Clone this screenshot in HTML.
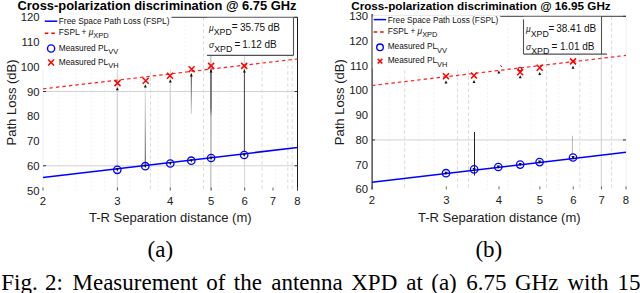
<!DOCTYPE html>
<html><head><meta charset="utf-8"><style>
html,body{margin:0;padding:0;background:#fff;width:640px;height:293px;overflow:hidden}
svg{display:block;font-family:"Liberation Sans", sans-serif}
</style></head><body>
<svg width="640" height="293" viewBox="0 0 640 293">
<rect width="640" height="293" fill="#fff"/>
<line x1="59" y1="17.3" x2="59" y2="190.5" stroke="#ececec" stroke-width="0.8" stroke-dasharray="1.5 2.5"/>
<line x1="75.8" y1="17.3" x2="75.8" y2="190.5" stroke="#ececec" stroke-width="0.8" stroke-dasharray="1.5 2.5"/>
<line x1="91.4" y1="17.3" x2="91.4" y2="190.5" stroke="#ececec" stroke-width="0.8" stroke-dasharray="1.5 2.5"/>
<line x1="104.5" y1="17.3" x2="104.5" y2="190.5" stroke="#ececec" stroke-width="0.8" stroke-dasharray="1.5 2.5"/>
<line x1="130" y1="17.3" x2="130" y2="190.5" stroke="#ececec" stroke-width="0.8" stroke-dasharray="1.5 2.5"/>
<line x1="158" y1="17.3" x2="158" y2="190.5" stroke="#ececec" stroke-width="0.8" stroke-dasharray="1.5 2.5"/>
<line x1="185" y1="17.3" x2="185" y2="190.5" stroke="#ececec" stroke-width="0.8" stroke-dasharray="1.5 2.5"/>
<line x1="218.7" y1="17.3" x2="218.7" y2="190.5" stroke="#ececec" stroke-width="0.8" stroke-dasharray="1.5 2.5"/>
<line x1="231" y1="17.3" x2="231" y2="190.5" stroke="#ececec" stroke-width="0.8" stroke-dasharray="1.5 2.5"/>
<line x1="275.6" y1="17.3" x2="275.6" y2="190.5" stroke="#ececec" stroke-width="0.8" stroke-dasharray="1.5 2.5"/>
<line x1="150.5" y1="17.3" x2="150.5" y2="190.5" stroke="#d8d8d8" stroke-width="0.9" stroke-dasharray="3.5 2.5"/>
<line x1="203.5" y1="17.3" x2="203.5" y2="190.5" stroke="#d8d8d8" stroke-width="0.9" stroke-dasharray="3.5 2.5"/>
<line x1="262" y1="17.3" x2="262" y2="190.5" stroke="#d8d8d8" stroke-width="0.9" stroke-dasharray="3.5 2.5"/>
<line x1="287.8" y1="17.3" x2="287.8" y2="190.5" stroke="#d8d8d8" stroke-width="0.9" stroke-dasharray="3.5 2.5"/>
<line x1="292.2" y1="17.3" x2="292.2" y2="190.5" stroke="#d8d8d8" stroke-width="0.9" stroke-dasharray="3.5 2.5"/>
<line x1="117.30" y1="17.3" x2="117.30" y2="190.5" stroke="#cdcdcd" stroke-width="0.9"/>
<line x1="170.30" y1="17.3" x2="170.30" y2="190.5" stroke="#d4d4d4" stroke-width="0.9"/>
<line x1="210.80" y1="17.3" x2="210.80" y2="190.5" stroke="#c4c4c4" stroke-width="1.4"/>
<line x1="244.60" y1="17.3" x2="244.60" y2="190.5" stroke="#d0d0d0" stroke-width="0.9"/>
<line x1="43" y1="91.53" x2="297.5" y2="91.53" stroke="#cdcdcd" stroke-width="0.9"/>
<line x1="43" y1="165.76" x2="297.5" y2="165.76" stroke="#cdcdcd" stroke-width="0.9"/>
<line x1="43" y1="17.3" x2="297.5" y2="17.3" stroke="#3a3a3a" stroke-width="1"/>
<line x1="43" y1="17.3" x2="43" y2="190.5" stroke="#eeeeee" stroke-width="1"/>
<line x1="297.5" y1="17.3" x2="297.5" y2="190.5" stroke="#1a1a1a" stroke-width="1"/>
<text x="39.5" y="194.50" text-anchor="end" font-size="11.3" fill="#1a1a1a">50</text>
<line x1="43" y1="165.76" x2="46" y2="165.76" stroke="#333" stroke-width="1"/>
<line x1="294.5" y1="165.76" x2="297.5" y2="165.76" stroke="#333" stroke-width="1"/>
<text x="39.5" y="169.76" text-anchor="end" font-size="11.3" fill="#1a1a1a">60</text>
<text x="39.5" y="145.01" text-anchor="end" font-size="11.3" fill="#1a1a1a">70</text>
<text x="39.5" y="120.27" text-anchor="end" font-size="11.3" fill="#1a1a1a">80</text>
<line x1="43" y1="91.53" x2="46" y2="91.53" stroke="#333" stroke-width="1"/>
<line x1="294.5" y1="91.53" x2="297.5" y2="91.53" stroke="#333" stroke-width="1"/>
<text x="39.5" y="95.53" text-anchor="end" font-size="11.3" fill="#1a1a1a">90</text>
<text x="39.5" y="70.79" text-anchor="end" font-size="11.3" fill="#1a1a1a">100</text>
<text x="39.5" y="46.04" text-anchor="end" font-size="11.3" fill="#1a1a1a">110</text>
<line x1="43" y1="17.30" x2="46" y2="17.30" stroke="#333" stroke-width="1"/>
<line x1="294.5" y1="17.30" x2="297.5" y2="17.30" stroke="#333" stroke-width="1"/>
<text x="39.5" y="21.30" text-anchor="end" font-size="11.3" fill="#1a1a1a">120</text>
<line x1="43.00" y1="190.5" x2="43.00" y2="187.5" stroke="#444" stroke-width="0.8"/>
<text x="43.00" y="205.00" text-anchor="middle" font-size="11.3" fill="#1a1a1a">2</text>
<line x1="117.44" y1="190.5" x2="117.44" y2="187.5" stroke="#444" stroke-width="0.8"/>
<text x="117.44" y="205.00" text-anchor="middle" font-size="11.3" fill="#1a1a1a">3</text>
<line x1="170.25" y1="190.5" x2="170.25" y2="187.5" stroke="#444" stroke-width="0.8"/>
<text x="170.25" y="205.00" text-anchor="middle" font-size="11.3" fill="#1a1a1a">4</text>
<line x1="211.22" y1="190.5" x2="211.22" y2="187.5" stroke="#444" stroke-width="0.8"/>
<text x="211.22" y="205.00" text-anchor="middle" font-size="11.3" fill="#1a1a1a">5</text>
<line x1="244.69" y1="190.5" x2="244.69" y2="187.5" stroke="#444" stroke-width="0.8"/>
<text x="244.69" y="205.00" text-anchor="middle" font-size="11.3" fill="#1a1a1a">6</text>
<line x1="272.99" y1="190.5" x2="272.99" y2="187.5" stroke="#444" stroke-width="0.8"/>
<text x="272.99" y="205.00" text-anchor="middle" font-size="11.3" fill="#1a1a1a">7</text>
<line x1="297.50" y1="190.5" x2="297.50" y2="187.5" stroke="#444" stroke-width="0.8"/>
<text x="297.50" y="205.00" text-anchor="middle" font-size="11.3" fill="#1a1a1a">8</text>
<line x1="43" y1="177.5" x2="297.5" y2="147.5" stroke="#0000ff" stroke-width="1.5"/>
<line x1="43" y1="88.9" x2="297.5" y2="58.9" stroke="#ff2020" stroke-width="1.2" stroke-dasharray="3.5 3"/>
<line x1="117.3" y1="166" x2="117.3" y2="87.2" stroke="#d0d0d0" stroke-width="0.8"/>
<path d="M115.80 90.20 L117.30 87.20 L118.80 90.20 Z" fill="#111"/>
<linearGradient id="gL1" gradientUnits="userSpaceOnUse" x1="145.3" y1="84.5" x2="145.3" y2="166"><stop offset="0" stop-color="#e6e6e6"/><stop offset="0.3" stop-color="#c8c8c8"/><stop offset="1" stop-color="#555"/></linearGradient>
<rect x="144.75" y="84.5" width="1.1" height="81.50" fill="url(#gL1)"/>
<path d="M143.80 87.50 L145.30 84.50 L146.80 87.50 Z" fill="#111"/>
<line x1="170.3" y1="160" x2="170.3" y2="79.5" stroke="#d0d0d0" stroke-width="0.8"/>
<path d="M168.80 82.50 L170.30 79.50 L171.80 82.50 Z" fill="#111"/>
<linearGradient id="gL3" gradientUnits="userSpaceOnUse" x1="191.3" y1="73.5" x2="191.3" y2="114"><stop offset="0" stop-color="#333"/><stop offset="1" stop-color="#d0d0d0"/></linearGradient>
<rect x="190.80" y="73.5" width="1.0" height="40.50" fill="url(#gL3)"/>
<path d="M189.80 76.50 L191.30 73.50 L192.80 76.50 Z" fill="#111"/>
<linearGradient id="gL4" gradientUnits="userSpaceOnUse" x1="211.0" y1="69.5" x2="211.0" y2="156"><stop offset="0" stop-color="#555"/><stop offset="0.45" stop-color="#666"/><stop offset="0.55" stop-color="#bbb"/><stop offset="1" stop-color="#c4c4c4"/></linearGradient>
<rect x="210.25" y="69.5" width="1.5" height="86.50" fill="url(#gL4)"/>
<path d="M209.50 72.50 L211.00 69.50 L212.50 72.50 Z" fill="#111"/>
<line x1="244.4" y1="152" x2="244.4" y2="69.5" stroke="#333" stroke-width="0.9"/>
<path d="M242.90 72.50 L244.40 69.50 L245.90 72.50 Z" fill="#111"/>
<circle cx="117.3" cy="169.8" r="3.7" fill="none" stroke="#0000ff" stroke-width="1.3"/>
<path d="M115.70 168.30 L117.30 171.50 L118.90 168.30 Z" fill="#111"/>
<circle cx="145.3" cy="166.2" r="3.7" fill="none" stroke="#0000ff" stroke-width="1.3"/>
<path d="M143.70 164.70 L145.30 167.90 L146.90 164.70 Z" fill="#111"/>
<circle cx="170.3" cy="163.5" r="3.7" fill="none" stroke="#0000ff" stroke-width="1.3"/>
<path d="M168.70 162.00 L170.30 165.20 L171.90 162.00 Z" fill="#111"/>
<circle cx="191.3" cy="160.7" r="3.7" fill="none" stroke="#0000ff" stroke-width="1.3"/>
<path d="M189.70 159.20 L191.30 162.40 L192.90 159.20 Z" fill="#111"/>
<circle cx="211.1" cy="158" r="3.7" fill="none" stroke="#0000ff" stroke-width="1.3"/>
<path d="M209.50 156.50 L211.10 159.70 L212.70 156.50 Z" fill="#111"/>
<circle cx="244.2" cy="155" r="3.7" fill="none" stroke="#0000ff" stroke-width="1.3"/>
<path d="M242.60 153.50 L244.20 156.70 L245.80 153.50 Z" fill="#111"/>
<path d="M114.50 80.10 L120.50 86.10 M114.50 86.10 L120.50 80.10" stroke="#ff0000" stroke-width="1.5"/>
<path d="M142.70 77.80 L148.70 83.80 M142.70 83.80 L148.70 77.80" stroke="#ff0000" stroke-width="1.5"/>
<path d="M167.00 72.70 L173.00 78.70 M167.00 78.70 L173.00 72.70" stroke="#ff0000" stroke-width="1.5"/>
<path d="M188.60 66.30 L194.60 72.30 M188.60 72.30 L194.60 66.30" stroke="#ff0000" stroke-width="1.5"/>
<path d="M208.10 62.90 L214.10 68.90 M208.10 68.90 L214.10 62.90" stroke="#ff0000" stroke-width="1.5"/>
<path d="M241.20 62.90 L247.20 68.90 M241.20 68.90 L247.20 62.90" stroke="#ff0000" stroke-width="1.5"/>

<text x="17.5" y="9.6" font-size="12.9" font-weight="bold" fill="#000">Cross-polarization discrimination @ 6.75 GHz</text>
<text transform="translate(15.6,145.4) rotate(-90)" font-size="13" fill="#1a1a1a">Path Loss (dB)</text>
<text x="89" y="221.6" font-size="13" fill="#1a1a1a">T-R Separation distance (m)</text>
<rect x="40" y="14" width="131.5" height="55" fill="#fff"/>
<line x1="44.8" y1="21.2" x2="57.3" y2="21.2" stroke="#0000ff" stroke-width="1.5"/>
<text x="58.8" y="24.2" font-size="8.3" fill="#111">Free Space Path Loss (FSPL)</text>
<line x1="44.8" y1="33.2" x2="57.3" y2="33.2" stroke="#ff0000" stroke-width="1.5" stroke-dasharray="3.5 3"/>
<text x="58.8" y="35.2" font-size="8.3" fill="#111">FSPL + <tspan font-style="italic">μ</tspan><tspan dy="3" font-size="7.470000000000001">XPD</tspan></text>
<circle cx="51.099999999999994" cy="48.5" r="3.6" fill="none" stroke="#0000ff" stroke-width="1.4"/>
<text x="58.8" y="50.5" font-size="8.3" fill="#111">Measured PL<tspan dy="3.6" font-size="7.470000000000001">VV</tspan></text>
<path d="M48.10 59.50 L54.10 65.50 M48.10 65.50 L54.10 59.50" stroke="#ff0000" stroke-width="1.5"/>
<text x="58.8" y="64.5" font-size="8.3" fill="#111">Measured PL<tspan dy="3.6" font-size="7.470000000000001">VH</tspan></text>
<rect x="207" y="17.8" width="86.5" height="38" fill="#fff"/>
<line x1="207" y1="55.3" x2="293.5" y2="55.3" stroke="#505050" stroke-width="1.2"/>
<line x1="293.5" y1="17.3" x2="293.5" y2="55.3" stroke="#505050" stroke-width="1.1"/>
<text x="209" y="31" font-size="10" fill="#111"><tspan font-style="italic" font-size="8.5">μ</tspan><tspan dy="4.3" font-size="8.8">XPD</tspan></text>
<text x="231.8" y="29.5" font-size="10" fill="#111">=</text>
<text x="240" y="31" font-size="10" fill="#111">35.75 dB</text>
<text x="209" y="47.8" font-size="10" fill="#111"><tspan font-style="italic" font-size="8.5">σ</tspan><tspan dy="4.3" font-size="8.8">XPD</tspan></text>
<text x="234.5" y="47.8" font-size="10" fill="#111">=</text>
<text x="242.3" y="47.8" font-size="10" fill="#111">1.12 dB</text>
<line x1="388.9" y1="16.3" x2="388.9" y2="189.4" stroke="#ececec" stroke-width="0.8" stroke-dasharray="1.5 2.5"/>
<line x1="418.8" y1="16.3" x2="418.8" y2="189.4" stroke="#ececec" stroke-width="0.8" stroke-dasharray="1.5 2.5"/>
<line x1="434" y1="16.3" x2="434" y2="189.4" stroke="#ececec" stroke-width="0.8" stroke-dasharray="1.5 2.5"/>
<line x1="487.6" y1="16.3" x2="487.6" y2="189.4" stroke="#ececec" stroke-width="0.8" stroke-dasharray="1.5 2.5"/>
<line x1="508" y1="16.3" x2="508" y2="189.4" stroke="#ececec" stroke-width="0.8" stroke-dasharray="1.5 2.5"/>
<line x1="531.2" y1="16.3" x2="531.2" y2="189.4" stroke="#ececec" stroke-width="0.8" stroke-dasharray="1.5 2.5"/>
<line x1="559" y1="16.3" x2="559" y2="189.4" stroke="#ececec" stroke-width="0.8" stroke-dasharray="1.5 2.5"/>
<line x1="591" y1="16.3" x2="591" y2="189.4" stroke="#ececec" stroke-width="0.8" stroke-dasharray="1.5 2.5"/>
<line x1="404.6" y1="16.3" x2="404.6" y2="189.4" stroke="#d8d8d8" stroke-width="0.9" stroke-dasharray="3.5 2.5"/>
<line x1="457.5" y1="16.3" x2="457.5" y2="189.4" stroke="#d8d8d8" stroke-width="0.9" stroke-dasharray="3.5 2.5"/>
<line x1="468.5" y1="16.3" x2="468.5" y2="189.4" stroke="#d8d8d8" stroke-width="0.9" stroke-dasharray="3.5 2.5"/>
<line x1="546.5" y1="16.3" x2="546.5" y2="189.4" stroke="#d8d8d8" stroke-width="0.9" stroke-dasharray="3.5 2.5"/>
<line x1="579.8" y1="16.3" x2="579.8" y2="189.4" stroke="#d8d8d8" stroke-width="0.9" stroke-dasharray="3.5 2.5"/>
<line x1="611.6" y1="16.3" x2="611.6" y2="189.4" stroke="#d8d8d8" stroke-width="0.9" stroke-dasharray="3.5 2.5"/>
<line x1="601.30" y1="16.3" x2="601.30" y2="189.4" stroke="#c8c8c8" stroke-width="0.9"/>
<line x1="372" y1="139.94" x2="626" y2="139.94" stroke="#cdcdcd" stroke-width="0.9"/>
<line x1="372" y1="16.3" x2="626" y2="16.3" stroke="#3a3a3a" stroke-width="1"/>
<line x1="372.1" y1="14" x2="372.1" y2="189.4" stroke="#111" stroke-width="1.1"/>
<line x1="626" y1="16.3" x2="626" y2="189.4" stroke="#f0f0f0" stroke-width="1"/>
<text x="368" y="193.40" text-anchor="end" font-size="11.3" fill="#1a1a1a">60</text>
<text x="368" y="168.67" text-anchor="end" font-size="11.3" fill="#1a1a1a">70</text>
<line x1="372" y1="139.94" x2="375" y2="139.94" stroke="#333" stroke-width="1"/>
<line x1="623" y1="139.94" x2="626" y2="139.94" stroke="#333" stroke-width="1"/>
<text x="368" y="143.94" text-anchor="end" font-size="11.3" fill="#1a1a1a">80</text>
<text x="368" y="119.21" text-anchor="end" font-size="11.3" fill="#1a1a1a">90</text>
<text x="368" y="94.49" text-anchor="end" font-size="11.3" fill="#1a1a1a">100</text>
<text x="368" y="69.76" text-anchor="end" font-size="11.3" fill="#1a1a1a">110</text>
<text x="368" y="45.03" text-anchor="end" font-size="11.3" fill="#1a1a1a">120</text>
<line x1="372" y1="16.30" x2="375" y2="16.30" stroke="#333" stroke-width="1"/>
<line x1="623" y1="16.30" x2="626" y2="16.30" stroke="#333" stroke-width="1"/>
<text x="368" y="20.30" text-anchor="end" font-size="11.3" fill="#1a1a1a">130</text>
<line x1="372.00" y1="189.4" x2="372.00" y2="186.4" stroke="#444" stroke-width="0.8"/>
<text x="372.00" y="203.90" text-anchor="middle" font-size="11.3" fill="#1a1a1a">2</text>
<line x1="446.29" y1="189.4" x2="446.29" y2="186.4" stroke="#444" stroke-width="0.8"/>
<text x="446.29" y="203.90" text-anchor="middle" font-size="11.3" fill="#1a1a1a">3</text>
<line x1="499.00" y1="189.4" x2="499.00" y2="186.4" stroke="#444" stroke-width="0.8"/>
<text x="499.00" y="203.90" text-anchor="middle" font-size="11.3" fill="#1a1a1a">4</text>
<line x1="539.88" y1="189.4" x2="539.88" y2="186.4" stroke="#444" stroke-width="0.8"/>
<text x="539.88" y="203.90" text-anchor="middle" font-size="11.3" fill="#1a1a1a">5</text>
<line x1="573.29" y1="189.4" x2="573.29" y2="186.4" stroke="#444" stroke-width="0.8"/>
<text x="573.29" y="203.90" text-anchor="middle" font-size="11.3" fill="#1a1a1a">6</text>
<line x1="601.53" y1="189.4" x2="601.53" y2="186.4" stroke="#444" stroke-width="0.8"/>
<text x="601.53" y="203.90" text-anchor="middle" font-size="11.3" fill="#1a1a1a">7</text>
<line x1="626.00" y1="189.4" x2="626.00" y2="186.4" stroke="#444" stroke-width="0.8"/>
<text x="626.00" y="203.90" text-anchor="middle" font-size="11.3" fill="#1a1a1a">8</text>
<line x1="372" y1="182.2" x2="626" y2="152.3" stroke="#0000ff" stroke-width="1.5"/>
<line x1="372" y1="85.5" x2="626" y2="55.4" stroke="#ff2020" stroke-width="1.2" stroke-dasharray="3.5 3"/>
<line x1="474.5" y1="175.5" x2="474.5" y2="132" stroke="#222" stroke-width="1.0"/>
<line x1="572.4" y1="155" x2="572.4" y2="135.8" stroke="#999" stroke-width="0.7"/>
<path d="M444.50 83.50 L446.00 80.50 L447.50 83.50 Z" fill="#111"/>
<path d="M472.50 83.00 L474.00 80.00 L475.50 83.00 Z" fill="#111"/>
<path d="M497.40 73.50 L498.90 70.50 L500.40 73.50 Z" fill="#111"/>
<path d="M518.70 78.30 L520.20 75.30 L521.70 78.30 Z" fill="#111"/>
<path d="M538.20 75.00 L539.70 72.00 L541.20 75.00 Z" fill="#111"/>
<path d="M571.50 68.80 L573.00 65.80 L574.50 68.80 Z" fill="#111"/>
<circle cx="446" cy="173.2" r="3.7" fill="none" stroke="#0000ff" stroke-width="1.3"/>
<path d="M444.40 171.70 L446.00 174.90 L447.60 171.70 Z" fill="#111"/>
<circle cx="474.1" cy="169.4" r="3.7" fill="none" stroke="#0000ff" stroke-width="1.3"/>
<path d="M472.50 167.90 L474.10 171.10 L475.70 167.90 Z" fill="#111"/>
<circle cx="498.3" cy="167" r="3.7" fill="none" stroke="#0000ff" stroke-width="1.3"/>
<path d="M496.70 165.50 L498.30 168.70 L499.90 165.50 Z" fill="#111"/>
<circle cx="520.2" cy="164.6" r="3.7" fill="none" stroke="#0000ff" stroke-width="1.3"/>
<path d="M518.60 163.10 L520.20 166.30 L521.80 163.10 Z" fill="#111"/>
<circle cx="539.6" cy="162.1" r="3.7" fill="none" stroke="#0000ff" stroke-width="1.3"/>
<path d="M538.00 160.60 L539.60 163.80 L541.20 160.60 Z" fill="#111"/>
<circle cx="573" cy="157.5" r="3.7" fill="none" stroke="#0000ff" stroke-width="1.3"/>
<path d="M571.40 156.00 L573.00 159.20 L574.60 156.00 Z" fill="#111"/>
<path d="M443.00 73.20 L449.00 79.20 M443.00 79.20 L449.00 73.20" stroke="#ff0000" stroke-width="1.5"/>
<path d="M471.00 72.50 L477.00 78.50 M471.00 78.50 L477.00 72.50" stroke="#ff0000" stroke-width="1.5"/>
<path d="M517.20 69.30 L523.20 75.30 M517.20 75.30 L523.20 69.30" stroke="#ff0000" stroke-width="1.5"/>
<path d="M536.70 64.80 L542.70 70.80 M536.70 70.80 L542.70 64.80" stroke="#ff0000" stroke-width="1.5"/>
<path d="M570.00 58.40 L576.00 64.40 M570.00 64.40 L576.00 58.40" stroke="#ff0000" stroke-width="1.5"/>
<circle cx="520" cy="69" r="1.8" fill="none" stroke="#ff0000" stroke-width="1.1"/><path d="M500.2 65 L501.8 67" stroke="#ff0000" stroke-width="1"/>
<text x="351.2" y="9.6" font-size="11.7" font-weight="bold" fill="#000">Cross-polarization discrimination @ 16.95 GHz</text>
<text transform="translate(344.2,145.2) rotate(-90)" font-size="13" fill="#1a1a1a">Path Loss (dB)</text>
<text x="418" y="221.6" font-size="13" fill="#1a1a1a">T-R Separation distance (m)</text>
<rect x="372.7" y="15.5" width="127.5" height="53" fill="#fff"/>
<line x1="373.7" y1="19.6" x2="386.2" y2="19.6" stroke="#0000ff" stroke-width="1.5"/>
<text x="387.7" y="22.6" font-size="8.3" fill="#111">Free Space Path Loss (FSPL)</text>
<line x1="373.7" y1="32.1" x2="386.2" y2="32.1" stroke="#ff0000" stroke-width="1.5" stroke-dasharray="3.5 3"/>
<text x="387.7" y="34.1" font-size="8.3" fill="#111">FSPL + <tspan font-style="italic">μ</tspan><tspan dy="3" font-size="7.470000000000001">XPD</tspan></text>
<circle cx="380.0" cy="47.3" r="3.3" fill="none" stroke="#0000ff" stroke-width="1.4"/>
<text x="387.7" y="49.3" font-size="8.3" fill="#111">Measured PL<tspan dy="4" font-size="7.470000000000001">VV</tspan></text>
<path d="M377.70 58.90 L382.30 63.50 M377.70 63.50 L382.30 58.90" stroke="#ff0000" stroke-width="1.5"/>
<text x="387.7" y="63.2" font-size="8.3" fill="#111">Measured PL<tspan dy="4" font-size="7.470000000000001">VH</tspan></text>
<rect x="523.5" y="16.8" width="78" height="37.8" fill="#fff"/>
<line x1="523.5" y1="54.099999999999994" x2="607.0" y2="54.099999999999994" stroke="#505050" stroke-width="1.2"/>
<line x1="601.5" y1="16.3" x2="601.5" y2="54.099999999999994" stroke="#505050" stroke-width="1.1"/>
<line x1="523.5" y1="19.3" x2="523.5" y2="54.099999999999994" stroke="#505050" stroke-width="1.1"/>
<text x="526" y="32.2" font-size="10" fill="#111"><tspan font-style="italic" font-size="8.5">μ</tspan><tspan dy="4.3" font-size="8.8">XPD</tspan></text>
<text x="548.6" y="31.700000000000003" font-size="10" fill="#111">=</text>
<text x="556.2" y="32.2" font-size="10" fill="#111">38.41 dB</text>
<text x="526" y="49.6" font-size="10" fill="#111"><tspan font-style="italic" font-size="8.5">σ</tspan><tspan dy="4.3" font-size="8.8">XPD</tspan></text>
<text x="551.5" y="49.6" font-size="10" fill="#111">=</text>
<text x="560" y="49.6" font-size="10" fill="#111">1.01 dB</text>
<text x="160.3" y="256.6" text-anchor="middle" font-family='"Liberation Serif", serif' font-size="23" fill="#000">(a)</text><text x="488.8" y="256.6" text-anchor="middle" font-family='"Liberation Serif", serif' font-size="23" fill="#000">(b)</text>
<text x="1.25" y="290.3" font-family='"Liberation Serif", serif' font-size="23" fill="#000">Fig.</text>
<text x="45" y="290.3" font-family='"Liberation Serif", serif' font-size="23" fill="#000">2:</text>
<text x="72.5" y="290.3" font-family='"Liberation Serif", serif' font-size="23" fill="#000">Measurement</text>
<text x="206.25" y="290.3" font-family='"Liberation Serif", serif' font-size="23" fill="#000">of</text>
<text x="233.75" y="290.3" font-family='"Liberation Serif", serif' font-size="23" fill="#000">the</text>
<text x="271.25" y="290.3" font-family='"Liberation Serif", serif' font-size="23" fill="#000">antenna</text>
<text x="351.25" y="290.3" font-family='"Liberation Serif", serif' font-size="23" fill="#000">XPD</text>
<text x="406.25" y="290.3" font-family='"Liberation Serif", serif' font-size="23" fill="#000">at</text>
<text x="431.25" y="290.3" font-family='"Liberation Serif", serif' font-size="23" fill="#000">(a)</text>
<text x="466.25" y="290.3" font-family='"Liberation Serif", serif' font-size="23" fill="#000">6.75</text>
<text x="515" y="290.3" font-family='"Liberation Serif", serif' font-size="23" fill="#000">GHz</text>
<text x="567.5" y="290.3" font-family='"Liberation Serif", serif' font-size="23" fill="#000">with</text>
<text x="617.5" y="290.3" font-family='"Liberation Serif", serif' font-size="23" fill="#000">15</text>
</svg>
</body></html>
